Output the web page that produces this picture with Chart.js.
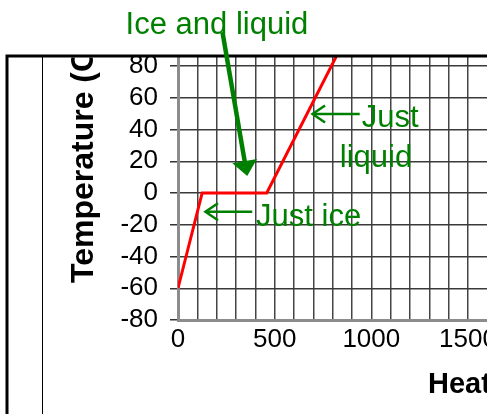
<!DOCTYPE html>
<html><head><meta charset="utf-8">
<script src="https://cdn.jsdelivr.net/npm/chart.js@4.4.0/dist/chart.umd.min.js"></script>
<style>html,body{margin:0;padding:0;background:#fff;overflow:hidden;width:487px;height:414px}canvas{display:block}</style>
</head><body><canvas id="c" width="530" height="414"></canvas>
<script>
// ---- data ----
const heatAdded = [0, 125, 459, 877];
const temperature = [-60, 0, 0, 100];
const yTickValues = [-80, -60, -40, -20, 0, 20, 40, 60, 80];
const xLabelEvery = 500;
const yAxisTitle = 'Temperature (C)';
const xAxisTitle = 'Heat';
const noteTexts = ['Ice and liquid', 'Just ice', 'Just', 'liquid'];

// annotation anchors (data coordinates)
const noteAnchors = [[-271, 100.2], [404, -20.8], [951, 41.4], [837, 16.2]];
const arrows = [
  {from: [230, 101.4], to: [358, 10.7], width: 4.5, head: 'filled'},
  {from: [384, -11.8], to: [142, -11.8], width: 2.5, head: 'open'},
  {from: [940, 49.8], to: [696, 49.8], width: 2.5, head: 'open'}
];

const GREEN = '#008000';
const FONT = "'Liberation Sans', Arial, sans-serif";

const overlay = {
  id: 'overlay',
  afterDraw(chart) {
    const ctx = chart.ctx;
    const xs = chart.scales.x, ys = chart.scales.y;
    const px = v => xs.getPixelForValue(v), py = v => ys.getPixelForValue(v);
    const top = chart.chartArea.top;
    ctx.save();
    ctx.fillStyle = '#fff';
    ctx.fillRect(0, 0, chart.width, top - 1);
    ctx.strokeStyle = '#000';
    ctx.lineWidth = 3;
    ctx.beginPath();
    ctx.moveTo(7, chart.height); ctx.lineTo(7, top); ctx.lineTo(chart.width, top);
    ctx.stroke();
    ctx.lineWidth = 1;
    ctx.beginPath(); ctx.moveTo(42.5, top); ctx.lineTo(42.5, chart.height); ctx.stroke();
    ctx.save();
    ctx.beginPath(); ctx.rect(0, top + 1.5, chart.width, chart.height); ctx.clip();
    ctx.translate(93, 283);
    ctx.rotate(-Math.PI / 2);
    ctx.fillStyle = '#000';
    ctx.font = 'bold 32px ' + FONT;
    ctx.textAlign = 'left'; ctx.textBaseline = 'alphabetic';
    ctx.fillText(yAxisTitle, 0, 0);
    ctx.restore();
    ctx.fillStyle = '#000';
    ctx.font = 'bold 29px ' + FONT;
    ctx.textAlign = 'left'; ctx.textBaseline = 'alphabetic';
    ctx.fillText(xAxisTitle, 428, 393);
    ctx.fillStyle = GREEN;
    ctx.font = '31px ' + FONT;
    noteTexts.forEach((t, i) => ctx.fillText(t, px(noteAnchors[i][0]), py(noteAnchors[i][1])));
    ctx.strokeStyle = GREEN; ctx.fillStyle = GREEN;
    arrows.forEach(a => {
      const x0 = px(a.from[0]), y0 = py(a.from[1]);
      const x1 = px(a.to[0]), y1 = py(a.to[1]);
      const dx = x1 - x0, dy = y1 - y0, L = Math.hypot(dx, dy);
      const ux = dx / L, uy = dy / L, nx = -uy, ny = ux;
      ctx.lineWidth = a.width;
      ctx.lineCap = 'butt';
      if (a.head === 'filled') {
        const hl = 15, hw = 12.5;
        const bx = x1 - ux * hl, by = y1 - uy * hl;
        ctx.beginPath(); ctx.moveTo(x0, y0); ctx.lineTo(bx + ux * 2, by + uy * 2); ctx.stroke();
        ctx.beginPath();
        ctx.moveTo(x1, y1);
        ctx.lineTo(bx + nx * hw, by + ny * hw);
        ctx.lineTo(bx - nx * hw, by - ny * hw);
        ctx.closePath(); ctx.fill();
      } else {
        const hl = 12.5, hw = 8.5;
        ctx.beginPath(); ctx.moveTo(x0, y0); ctx.lineTo(x1, y1); ctx.stroke();
        const bx = x1 - ux * hl, by = y1 - uy * hl;
        ctx.beginPath();
        ctx.moveTo(bx + nx * hw, by + ny * hw);
        ctx.lineTo(x1, y1);
        ctx.lineTo(bx - nx * hw, by - ny * hw);
        ctx.stroke();
      }
    });
    ctx.restore();
  }
};

new Chart(document.getElementById('c'), {
  type: 'line',
  data: {
    datasets: [{
      data: heatAdded.map((x, i) => ({x, y: temperature[i]})),
      borderColor: '#ff0000',
      borderWidth: 3,
      pointRadius: 0,
      tension: 0,
      borderJoinStyle: 'miter',
      fill: false
    }]
  },
  options: {
    responsive: false,
    animation: false,
    devicePixelRatio: 1,
    layout: {padding: {top: 56, left: 0, right: 0, bottom: 0}},
    plugins: {legend: {display: false}, tooltip: {enabled: false}, title: {display: false}},
    scales: {
      x: {
        type: 'linear', min: 0, max: 1800,
        grid: {color: '#444', lineWidth: 1.5, drawTicks: false},
        border: {display: true, color: '#8c8c8c', width: 3},
        ticks: {
          stepSize: 100, autoSkip: false, maxRotation: 0, padding: 4,
          color: '#000', font: {family: FONT, size: 26},
          callback: v => (v % xLabelEvery === 0 ? String(v) : '')
        },
        afterFit: s => { s.height = 94; }
      },
      y: {
        type: 'linear', min: -80, max: 86.3,
        grid: {color: '#3a3a3a', lineWidth: 1.5, drawTicks: true, tickLength: 8, tickColor: '#333'},
        border: {display: true, color: '#8c8c8c', width: 3},
        ticks: {autoSkip: false, padding: 12, color: '#000', font: {family: FONT, size: 26, lineHeight: 1}},
        afterBuildTicks: s => { s.ticks = yTickValues.map(v => ({value: v})); },
        afterFit: s => { s.width = 178; }
      }
    }
  },
  plugins: [overlay]
});
</script>
</body></html>
